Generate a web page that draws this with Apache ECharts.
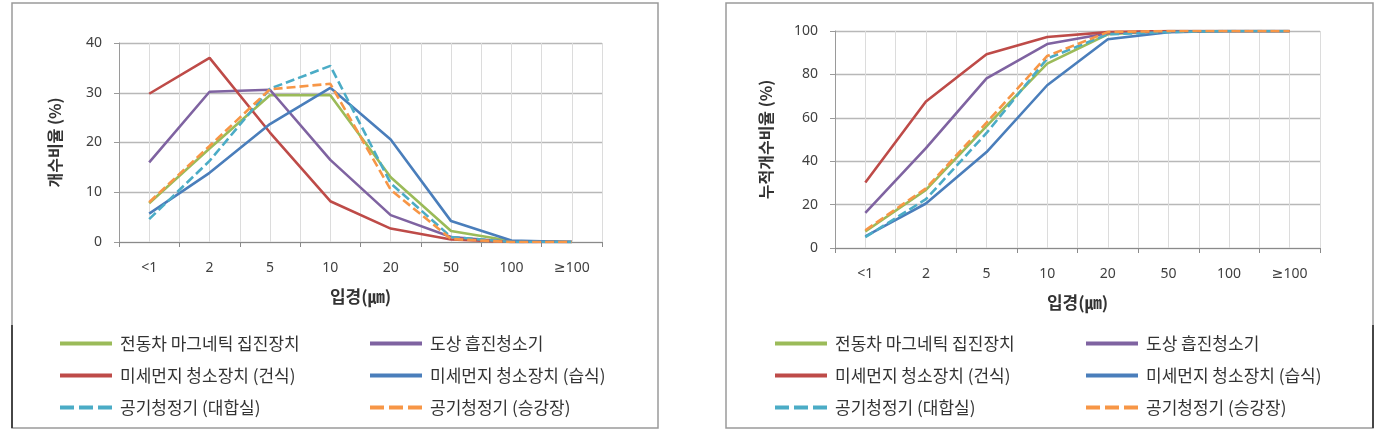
<!DOCTYPE html>
<html>
<head>
<meta charset="utf-8">
<script src="https://cdn.jsdelivr.net/npm/echarts@6.0.0/dist/echarts.min.js"></script>
<style>
html,body{margin:0;padding:0;background:#fff;}
#chart{width:1395px;height:431px;}
</style>
</head>
<body>
<div id="chart"></div>
<script>
// ---- data ----
const categories = ['<1', '2', '5', '10', '20', '50', '100', '≥100'];
const seriesNames = ['전동차 마그네틱 집진장치', '도상 흡진청소기', '미세먼지 청소장치 (건식)', '미세먼지 청소장치 (습식)', '공기청정기 (대합실)', '공기청정기 (승강장)'];

// left chart: 개수비율 (%)
const countGreen  = [7.8, 18.8, 29.5, 29.5, 13.0, 2.2, 0.2, 0];
const countPurple = [16.0, 30.2, 30.6, 16.5, 5.4, 1.0, 0, 0];
const countRed    = [29.8, 37.0, 22.0, 8.2, 2.7, 0.5, 0, 0];
const countBlue   = [5.7, 13.9, 23.7, 31.0, 20.6, 4.2, 0.3, 0];
const countCyan   = [4.6, 16.3, 30.8, 35.4, 11.8, 1.0, 0, 0];
const countOrange = [8.0, 19.3, 30.7, 31.8, 10.5, 0.6, 0, 0];

// right chart: 누적개수비율 (%)
const cumGreen  = [7.6, 26.8, 56.2, 85.0, 98.5, 100, 100, 100];
const cumPurple = [16.2, 46.0, 78.2, 94.0, 99.0, 100, 100, 100];
const cumRed    = [30.2, 67.5, 89.3, 97.2, 99.5, 100, 100, 100];
const cumBlue   = [5.4, 20.5, 44.2, 75.0, 96.2, 99.5, 100, 100];
const cumCyan   = [5.0, 22.5, 53.0, 87.3, 98.5, 99.5, 100, 100];
const cumOrange = [8.2, 27.5, 57.8, 88.5, 99.5, 100, 100, 100];

const leftTicks = {min: 0, max: 40, interval: 10};
const rightTicks = {min: 0, max: 100, interval: 20};

// ---- styles ----
const colors = ['#9BBB59', '#7F63A1', '#BE4B48', '#4A7EBB', '#4BACC6', '#F79646'];
const dashed = [false, false, false, false, true, true];
const FONT = '"Noto Sans CJK KR", "Noto Sans", sans-serif';
const NUMFONT = '"Noto Sans", "DejaVu Sans", sans-serif';
const TXT = '#404040';

const leftData = [countGreen, countPurple, countRed, countBlue, countCyan, countOrange];
const rightData = [cumGreen, cumPurple, cumRed, cumBlue, cumCyan, cumOrange];

function makeSeries(dataSets, xIdx, yIdx) {
  return dataSets.map((d, i) => ({
    name: seriesNames[i],
    type: 'line',
    xAxisIndex: xIdx,
    yAxisIndex: yIdx,
    data: d,
    symbol: 'none',
    smooth: false,
    color: colors[i],
    lineStyle: {color: colors[i], width: 2.6, type: dashed[i] ? [9, 4] : 'solid'},
    emphasis: {disabled: true},
    z: 3
  }));
}

function legendItems(idx) {
  return idx.map(i => ({
    name: seriesNames[i],
    itemStyle: {opacity: 0},
    lineStyle: {width: 4, type: dashed[i] ? [14, 5] : 'solid', color: colors[i]}
  }));
}

function makeLegend(left, idx) {
  return {
    orient: 'vertical',
    left: left,
    top: 335,
    padding: 0,
    itemWidth: 52,
    itemHeight: 14,
    itemGap: 15,
    selectedMode: false,
    data: legendItems(idx),
    textStyle: {fontFamily: FONT, fontSize: 17, color: '#333', padding: [0, 0, 0, 3]}
  };
}

function catAxis(gridIndex) {
  return {
    type: 'category',
    gridIndex: gridIndex,
    data: categories,
    boundaryGap: true,
    axisLine: {lineStyle: {color: '#8a8a8a', width: 1.2}},
    axisTick: {show: true, alignWithLabel: false, length: 5, lineStyle: {color: '#8a8a8a'}},
    axisLabel: {fontFamily: NUMFONT, fontSize: 14, color: TXT, margin: 19},
    splitLine: {show: false},
    name: '입경(㎛)',
    nameLocation: 'middle',
    nameGap: 46,
    nameTextStyle: {fontFamily: FONT, fontSize: 17, fontWeight: 'bold', color: '#333'}
  };
}

function gridAxis(gridIndex) {
  return {
    type: 'value',
    gridIndex: gridIndex,
    min: 0, max: 8, interval: 0.5,
    show: true,
    position: 'top',
    axisLine: {show: false},
    axisTick: {show: false},
    axisLabel: {show: false},
    splitLine: {show: true, lineStyle: {color: '#dcdcdc', width: 1}}
  };
}

function valAxis(gridIndex, ticks, name, gap) {
  return {
    type: 'value',
    gridIndex: gridIndex,
    min: ticks.min, max: ticks.max, interval: ticks.interval,
    axisLine: {show: true, lineStyle: {color: '#9a9a9a', width: 1}},
    axisTick: {show: true, length: 5, lineStyle: {color: '#9a9a9a'}},
    axisLabel: {fontFamily: NUMFONT, fontSize: 14, color: TXT, margin: 17},
    splitLine: {show: true, lineStyle: {color: '#b8b8b8', width: 1.3}},
    name: name,
    nameLocation: 'middle',
    nameGap: gap,
    nameTextStyle: {fontFamily: FONT, fontSize: 16, fontWeight: 'bold', color: '#333'}
  };
}

const chart = echarts.init(document.getElementById('chart'), null, {renderer: 'canvas'});

const option = {
  backgroundColor: '#ffffff',
  animation: false,
  graphic: [
    {type: 'rect', shape: {x: 12, y: 3, width: 646, height: 425}, style: {fill: 'none', stroke: '#9a9a9a', lineWidth: 1.5}, z: 0},
    {type: 'rect', shape: {x: 726, y: 3, width: 647, height: 425}, style: {fill: 'none', stroke: '#9a9a9a', lineWidth: 1.5}, z: 0},
    {type: 'line', shape: {x1: 12, y1: 325, x2: 12, y2: 428}, style: {stroke: '#222', lineWidth: 1.5}, z: 1},
    {type: 'line', shape: {x1: 1373, y1: 325, x2: 1373, y2: 428}, style: {stroke: '#222', lineWidth: 1.5}, z: 1}
  ],
  grid: [
    {left: 119, top: 43, width: 483, height: 199, containLabel: false},
    {left: 835, top: 31, width: 485, height: 217, containLabel: false}
  ],
  xAxis: [catAxis(0), catAxis(1), gridAxis(0), gridAxis(1)],
  yAxis: [valAxis(0, leftTicks, '개수비율 (%)', 56), valAxis(1, rightTicks, '누적개수비율 (%)', 61)],
  legend: [
    makeLegend(58, [0, 2, 4]),
    makeLegend(368, [1, 3, 5]),
    makeLegend(773, [0, 2, 4]),
    makeLegend(1084, [1, 3, 5])
  ],
  series: [].concat(makeSeries(leftData, 0, 0), makeSeries(rightData, 1, 1))
};

chart.setOption(option);
</script>
</body>
</html>
